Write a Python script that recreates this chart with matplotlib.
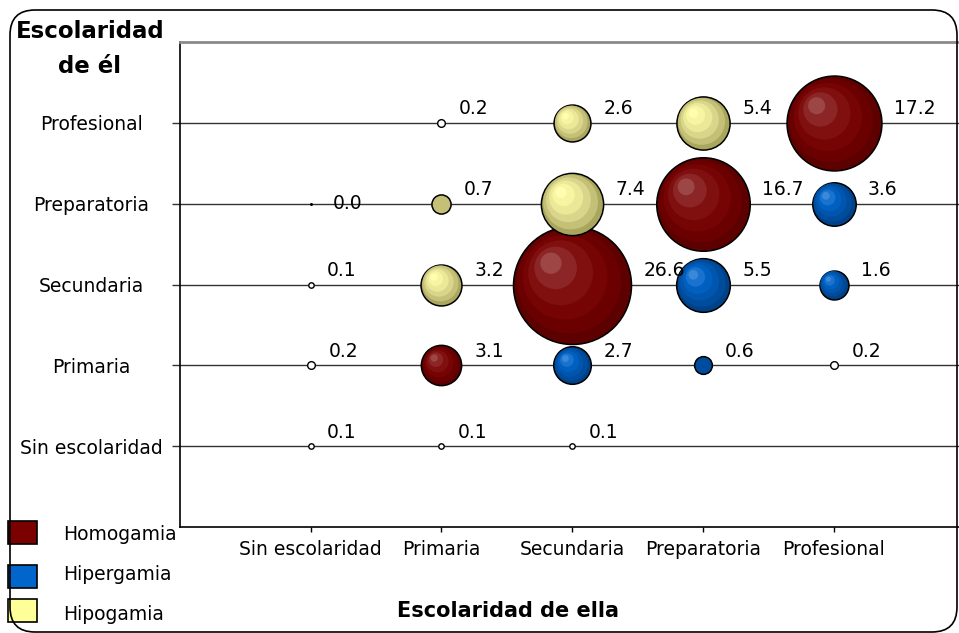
"""Burbujas de homogamia / hipergamia / hipogamia por escolaridad de él y de ella."""

import math

import matplotlib

matplotlib.use("Agg")
import matplotlib.pyplot as plt
from matplotlib.patches import FancyBboxPatch, Rectangle
from matplotlib.transforms import offset_copy

# categorías (eje x = ella, eje y = él)
niveles = ["Sin escolaridad", "Primaria", "Secundaria", "Preparatoria", "Profesional"]

# Homogamia: mismo nivel
homo_ella = ["Sin escolaridad", "Primaria", "Secundaria", "Preparatoria", "Profesional"]
homo_el = ["Sin escolaridad", "Primaria", "Secundaria", "Preparatoria", "Profesional"]
homo_val = [0.1, 3.1, 26.6, 16.7, 17.2]

# Hipergamia: ella con más escolaridad
hiper_ella = ["Primaria", "Secundaria", "Secundaria", "Preparatoria", "Profesional",
              "Preparatoria", "Profesional", "Profesional"]
hiper_el = ["Sin escolaridad", "Sin escolaridad", "Primaria", "Primaria", "Primaria",
            "Secundaria", "Secundaria", "Preparatoria"]
hiper_val = [0.1, 0.1, 2.7, 0.6, 0.2, 5.5, 1.6, 3.6]

# Hipogamia: él con más escolaridad
hipo_ella = ["Sin escolaridad", "Sin escolaridad", "Primaria", "Sin escolaridad", "Primaria",
             "Secundaria", "Primaria", "Secundaria", "Preparatoria"]
hipo_el = ["Primaria", "Secundaria", "Secundaria", "Preparatoria", "Preparatoria",
           "Preparatoria", "Profesional", "Profesional", "Profesional"]
hipo_val = [0.2, 0.1, 3.2, 0.0, 0.7, 7.4, 0.2, 2.6, 5.4]

series_names = ["Homogamia", "Hipergamia", "Hipogamia"]
legend_colors = ["#7b0000", "#0066cc", "#ffff99"]

# degradado tipo "esfera" (de afuera hacia el brillo)
SHADES = {
    "Homogamia": ["#5c0000", "#6a0000", "#760404", "#801010", "#8c2626", "#9c4646"],
    "Hipergamia": ["#00428a", "#004c9c", "#0056ae", "#0060c0", "#1a72cf", "#3a88d8"],
    "Hipogamia": ["#a9a65e", "#c4c078", "#d9d58a", "#ebe898", "#f7f5a2", "#fffdb0"],
}
LAYER_SCALES = [1.0, 0.88, 0.72, 0.55, 0.36, 0.18]

D_MAX_PX = 118  # diámetro de la burbuja mayor
PX2PT = 72 / 100
FS = 13.5

plt.rcParams["font.family"] = ["DejaVu Sans"]

fig = plt.figure(figsize=(9.59, 6.33), dpi=100)
ax = fig.add_axes([180 / 959, 1 - 527 / 633, 779 / 959, 485 / 633])

vmax = max(homo_val + hiper_val + hipo_val)


def draw_bubble(ax, x, y, v, shades, z):
    d_px = math.sqrt(v / vmax) * D_MAX_PX
    d_pt = max(d_px, 3) * PX2PT
    r_pt = d_pt / 2
    if d_px < 4:
        ax.scatter([x], [y], s=d_pt ** 2, color="black", linewidths=0, zorder=z)
    elif d_px < 11:
        ax.scatter([x], [y], s=(d_pt * 0.75) ** 2, color="white", edgecolors="black",
                   linewidths=1.0, zorder=z)
    elif d_px < 21:
        ax.scatter([x], [y], s=d_pt ** 2, color=shades[1], edgecolors="black",
                   linewidths=1.1, zorder=z)
    else:
        for i, (sc, col) in enumerate(zip(LAYER_SCALES, shades)):
            off = (1 - sc) * 0.44 * r_pt
            tr = offset_copy(ax.transData, fig=fig, x=-off, y=off, units="points")
            ax.scatter([x], [y], s=(d_pt * sc) ** 2, color=col, transform=tr,
                       edgecolors="black" if i == 0 else "none",
                       linewidths=1.1 if i == 0 else 0, zorder=z + i * 0.01)
    dy = 10 if v > 0 else 0
    dx = r_pt + 9 if v > 0 else 16
    ax.annotate(f"{v:.1f}", xy=(x, y), xytext=(dx, dy), textcoords="offset points",
                ha="left", va="center", fontsize=FS, zorder=10)


series = [
    (homo_ella, homo_el, homo_val),
    (hiper_ella, hiper_el, hiper_val),
    (hipo_ella, hipo_el, hipo_val),
]
for k, (name, (xs, ys, vs)) in enumerate(zip(series_names, series)):
    for xe, ye, v in zip(xs, ys, vs):
        draw_bubble(ax, niveles.index(xe) + 1, niveles.index(ye) + 1, v, SHADES[name], 3 + k)

ax.set_xlim(0, 779 / 130.75)
ax.set_ylim(0, 6)
ax.set_xticks(range(1, 6))
ax.set_xticklabels(niveles)
ax.set_yticks(range(1, 6))
ax.set_yticklabels(niveles)
ax.tick_params(axis="x", direction="out", length=3.6, width=1, pad=6, labelsize=FS)
ax.tick_params(axis="y", direction="out", length=6, width=1, pad=58, labelsize=FS,
               color="#333333")
for lbl in ax.get_yticklabels():
    lbl.set_horizontalalignment("center")

ax.grid(axis="y", color="#333333", linewidth=1)
ax.set_axisbelow(True)
ax.spines["right"].set_visible(False)
ax.spines["top"].set_color("#8a8a8a")
ax.spines["top"].set_linewidth(2)
ax.spines["left"].set_linewidth(1.2)
ax.spines["bottom"].set_linewidth(1.2)

# títulos de ejes
fig.text(90 / 959, 1 - 38 / 633, "Escolaridad", ha="center", va="baseline",
         fontsize=16.5, fontweight="bold")
fig.text(90 / 959, 1 - 73 / 633, "de él", ha="center", va="baseline",
         fontsize=16.5, fontweight="bold")
fig.text(508 / 959, 1 - 617 / 633, "Escolaridad de ella", ha="center", va="baseline",
         fontsize=15, fontweight="bold")

# leyenda a mano (cuadros grandes a la izquierda, como en Excel)
sq_tops = [521, 565, 599]
txt_mid = [535, 575, 615]
px = fig.dpi_scale_trans
for name, col, top, mid in zip(series_names, legend_colors, sq_tops, txt_mid):
    fig.add_artist(Rectangle((8 / 100, (633 - top - 23) / 100), 29 / 100, 23 / 100,
                             transform=px, facecolor=col, edgecolor="black", linewidth=1.2))
    fig.text(63 / 959, 1 - mid / 633, name, ha="left", va="center", fontsize=FS)

# marco redondeado del gráfico
frame = FancyBboxPatch((0.10, 0.01), 9.47, 6.22, boxstyle="round,pad=0,rounding_size=0.25",
                       transform=px, fill=False, edgecolor="black", linewidth=1.2)
fig.add_artist(frame)

fig.savefig("out.png", dpi=100)
